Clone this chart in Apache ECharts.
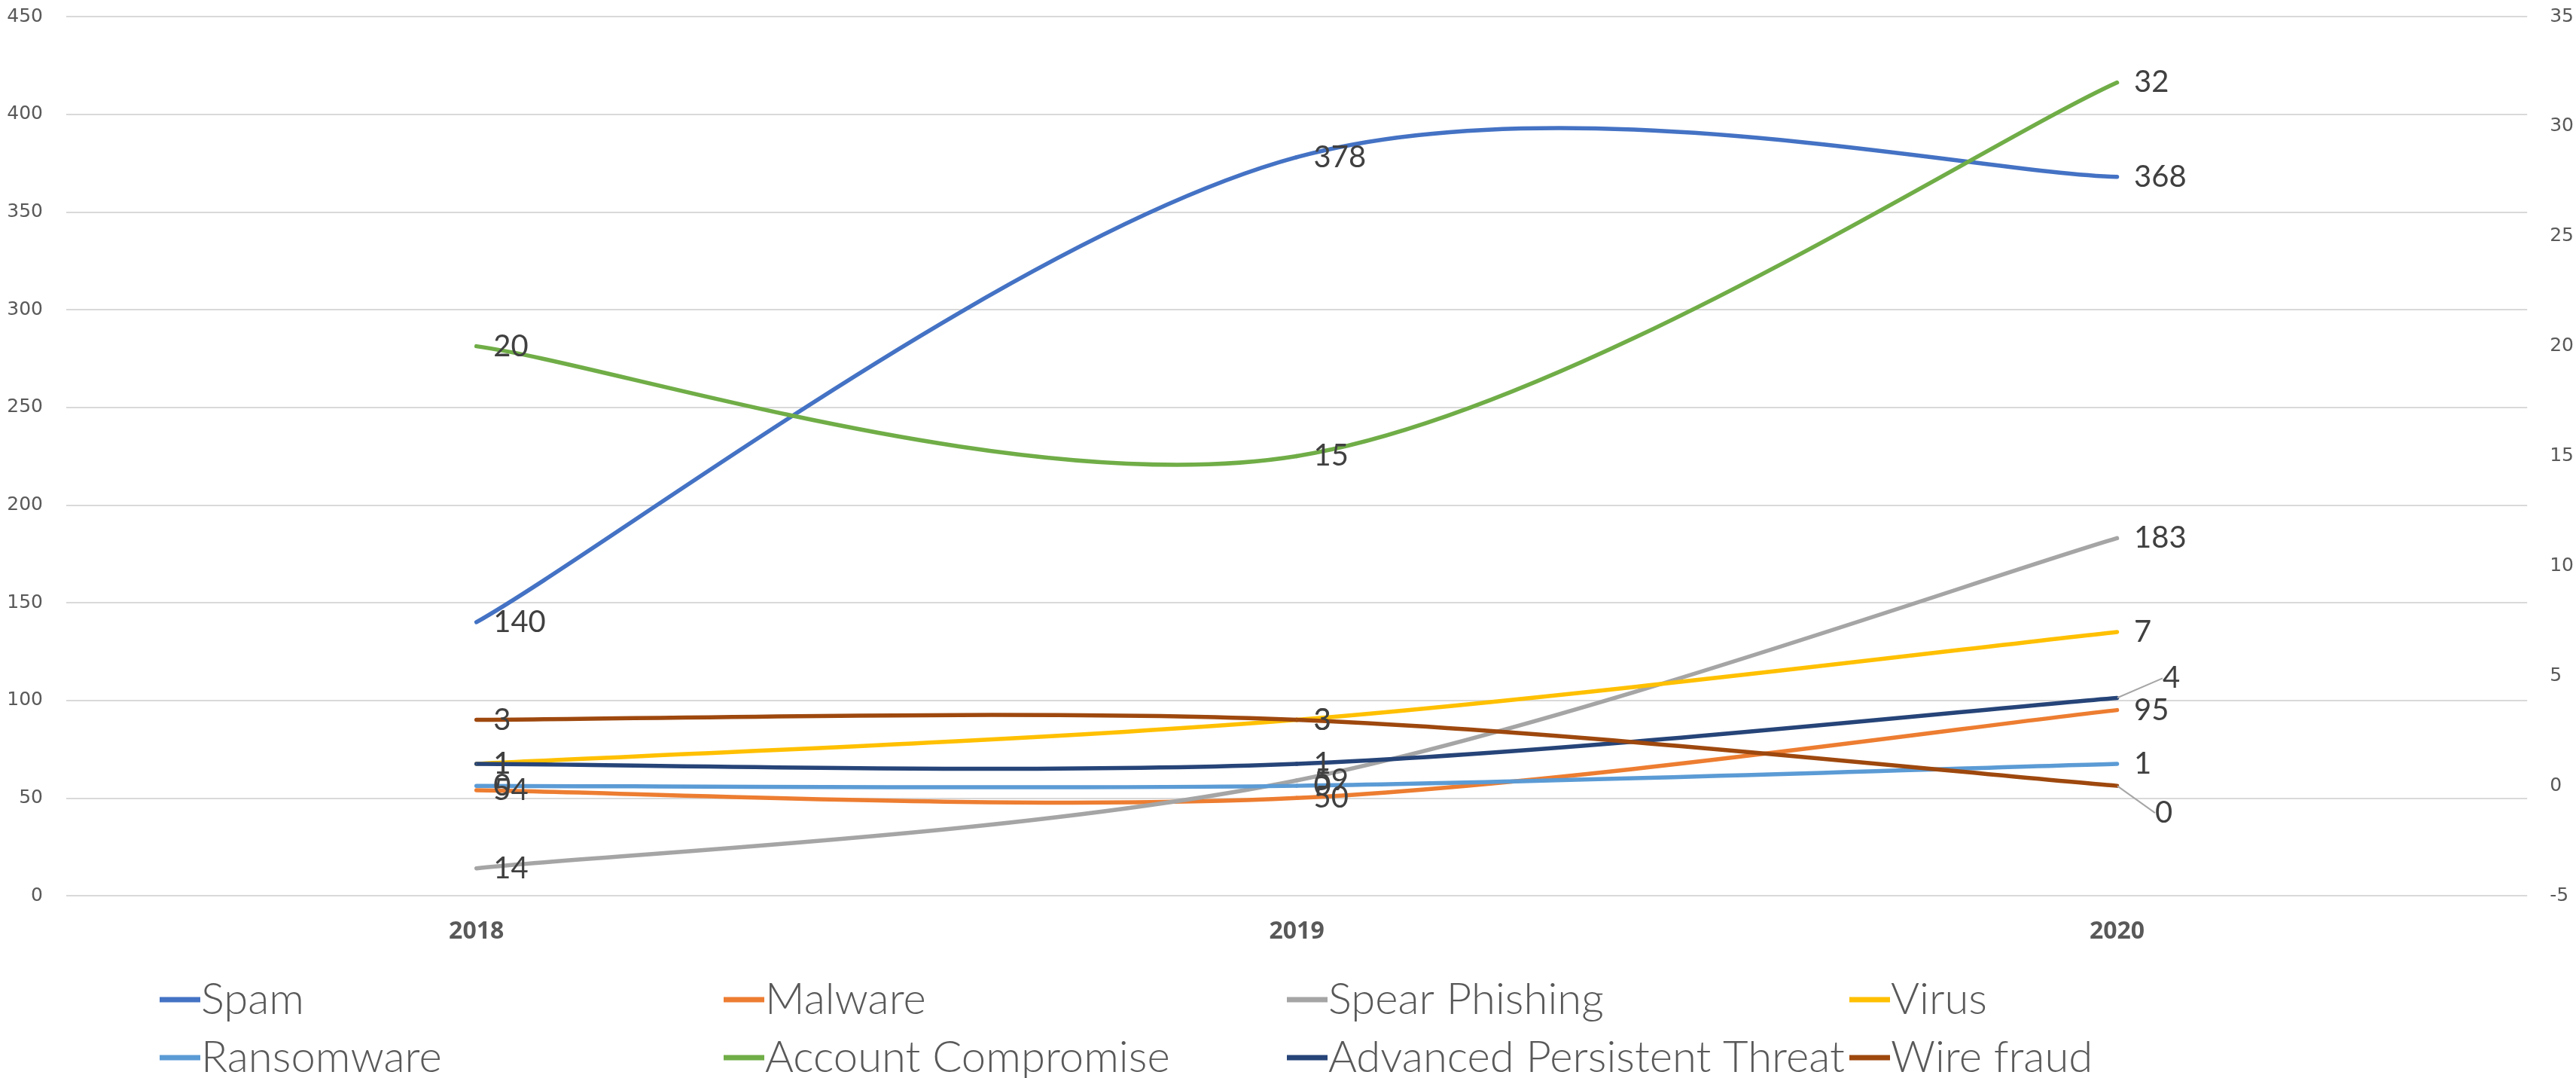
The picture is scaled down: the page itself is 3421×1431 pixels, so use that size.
<!DOCTYPE html>
<html>
<head>
<meta charset="utf-8">
<style>
  html, body { margin: 0; padding: 0; background: #ffffff; }
  #chart { width: 3421px; height: 1431px; }
</style>
<script src="https://cdn.jsdelivr.net/npm/echarts@6/dist/echarts.min.js"></script>
</head>
<body>
<div id="chart"></div>
<script>
// Incidents per year
const years = ['2018', '2019', '2020'];

// left axis (counts)
const spam = [140, 378, 368];
const malware = [54, 50, 95];
const spearPhishing = [14, 59, 183];

// right axis (counts)
const virus = [1, 3, 7];
const ransomware = [0, 0, 1];
const accountCompromise = [20, 15, 32];
const advancedPersistentThreat = [1, 1, 4];
const wireFraud = [3, 3, 0];

const leftTicks = { min: 0, max: 450, interval: 50 };
const rightTicks = { min: -5, max: 35, interval: 5 };

const seriesDefs = [
  { name: 'Spam', data: spam, axis: 0, color: '#4472C4' },
  { name: 'Malware', data: malware, axis: 0, color: '#ED7D31' },
  { name: 'Spear Phishing', data: spearPhishing, axis: 0, color: '#A5A5A5' },
  { name: 'Virus', data: virus, axis: 1, color: '#FFC000' },
  { name: 'Ransomware', data: ransomware, axis: 1, color: '#5B9BD5' },
  { name: 'Account Compromise', data: accountCompromise, axis: 1, color: '#70AD47' },
  { name: 'Advanced Persistent Threat', data: advancedPersistentThreat, axis: 1, color: '#264478' },
  { name: 'Wire fraud', data: wireFraud, axis: 1, color: '#9E480E' }
];

// labels pulled away from crowded end points, with a leader line
const movedLabels = {
  'Advanced Persistent Threat|2': { dx: 38, dy: -26 },
  'Wire fraud|2': { dx: 28, dy: 36 }
};

const labelFont = {
  fontFamily: 'Lato',
  fontSize: 40,
  color: '#404040'
};

const LINE_WIDTH = 5.5;

// Smoothed curve: cubic Bezier segments with Catmull-Rom style control
// points (one sixth of the neighbour span), computed in pixel space.
function curveSeries(s) {
  const values = s.data;
  const n = values.length;
  return {
    name: s.name,
    type: 'custom',
    yAxisIndex: s.axis,
    silent: true,
    z: 2,
    data: values.map(function (v, i) { return [i, v]; }),
    encode: { x: 0, y: 1 },
    renderItem: function (params, api) {
      const i = params.dataIndex;
      if (i >= n - 1) return null;
      const pt = function (j) {
        const k = Math.max(0, Math.min(n - 1, j));
        return api.coord([k, values[k]]);
      };
      const p0 = pt(i - 1), p1 = pt(i), p2 = pt(i + 1), p3 = pt(i + 2);
      return {
        type: 'bezierCurve',
        shape: {
          x1: p1[0], y1: p1[1],
          cpx1: p1[0] + (p2[0] - p0[0]) / 6,
          cpy1: p1[1] + (p2[1] - p0[1]) / 6,
          cpx2: p2[0] - (p3[0] - p1[0]) / 6,
          cpy2: p2[1] - (p3[1] - p1[1]) / 6,
          x2: p2[0], y2: p2[1]
        },
        style: {
          fill: null,
          stroke: s.color,
          lineWidth: LINE_WIDTH,
          lineCap: 'round'
        }
      };
    }
  };
}

// Value labels sit on a line series whose own line is hidden.
function labelSeries(s) {
  return {
    name: s.name,
    type: 'line',
    yAxisIndex: s.axis,
    z: 3,
    symbol: 'circle',
    symbolSize: 1,
    showSymbol: true,
    lineStyle: { opacity: 0 },
    itemStyle: { color: s.color },
    label: Object.assign({
      show: true,
      position: 'right',
      distance: 22,
      offset: [0, 7],
      formatter: function (p) { return String(p.value); }
    }, labelFont),
    data: s.data.map(function (v, i) {
      if (movedLabels[s.name + '|' + i]) {
        return {
          value: v,
          labelLine: { show: true, lineStyle: { color: '#A6A6A6', width: 2 } }
        };
      }
      return v;
    }),
    labelLayout: function (params) {
      const m = movedLabels[s.name + '|' + params.dataIndex];
      return m ? { dx: m.dx, dy: m.dy } : {};
    },
    emphasis: { disabled: true },
    silent: true
  };
}

const series = seriesDefs.map(labelSeries).concat(seriesDefs.map(curveSeries));

// one legend per entry so that they sit in fixed columns
const legendCols = [212, 961, 1709, 2456];
const legendRows = [1327, 1404];
const legends = seriesDefs.map(function (s, i) {
  return {
    data: [s.name],
    left: legendCols[i % 4],
    top: legendRows[Math.floor(i / 4)] - 32,
    padding: 0,
    itemWidth: 54,
    itemHeight: 7,
    itemGap: 0,
    icon: 'rect',
    selectedMode: false,
    itemStyle: { color: s.color, opacity: 1, borderWidth: 0 },
    textStyle: {
      fontFamily: 'Lato',
      fontWeight: 300,
      fontSize: 58,
      lineHeight: 64,
      color: '#595959',
      padding: [0, 0, 0, -4]
    }
  };
});

const chart = echarts.init(document.getElementById('chart'), null, { renderer: 'canvas' });
chart.setOption({
  backgroundColor: '#ffffff',
  animation: false,
  color: seriesDefs.map(function (s) { return s.color; }),
  grid: { left: 88, right: 62, top: 22, bottom: 242, containLabel: false },
  legend: legends,
  xAxis: {
    type: 'category',
    data: years,
    boundaryGap: true,
    axisLine: { show: false },
    axisTick: { show: false },
    axisLabel: {
      margin: 32,
      fontFamily: 'Open Sans',
      fontWeight: 'bold',
      fontSize: 32,
      color: '#595959'
    }
  },
  yAxis: [
    {
      type: 'value',
      min: leftTicks.min,
      max: leftTicks.max,
      interval: leftTicks.interval,
      axisLine: { show: false },
      axisTick: { show: false },
      splitLine: { show: true, lineStyle: { color: '#D9D9D9', width: 2 } },
      axisLabel: {
        margin: 31,
        fontFamily: 'DejaVu Sans',
        fontSize: 25,
        color: '#595959'
      }
    },
    {
      type: 'value',
      position: 'right',
      min: rightTicks.min,
      max: rightTicks.max,
      interval: rightTicks.interval,
      axisLine: { show: false },
      axisTick: { show: false },
      splitLine: { show: false },
      axisLabel: {
        margin: 30,
        fontFamily: 'DejaVu Sans',
        fontSize: 25,
        color: '#595959'
      }
    }
  ],
  series: series
});
</script>
</body>
</html>
